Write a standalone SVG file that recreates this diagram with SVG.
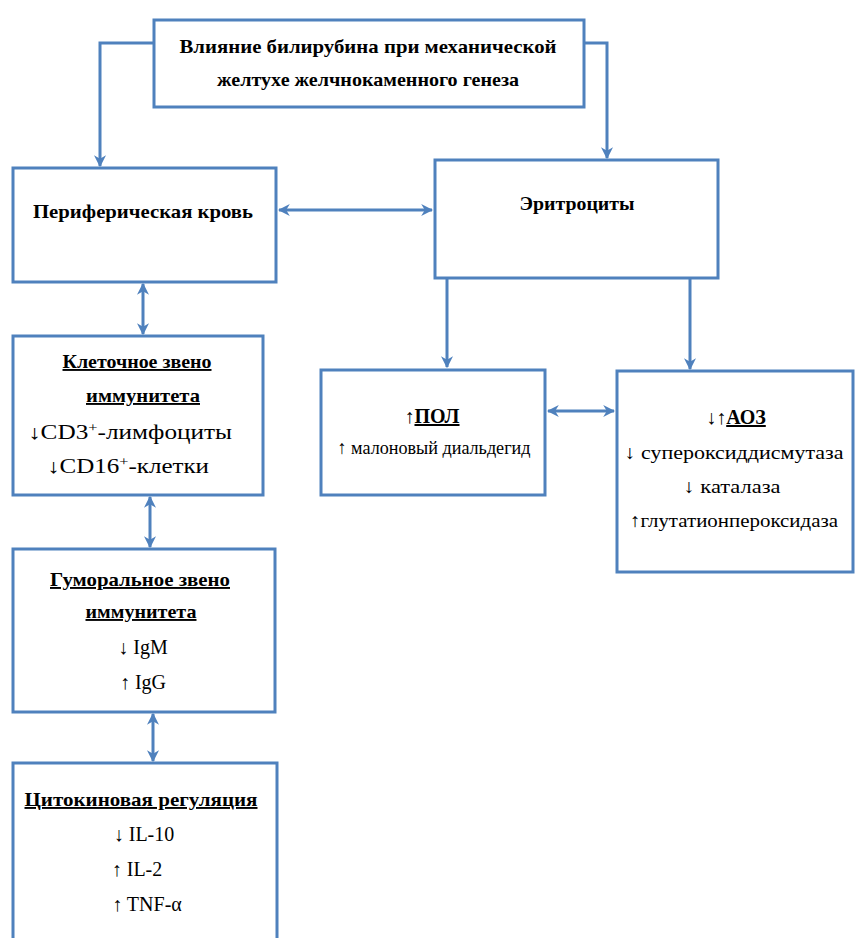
<svg xmlns="http://www.w3.org/2000/svg" width="855" height="938" viewBox="0 0 855 938">
<style>
.box{fill:#fff;stroke:#4f81bd;stroke-width:3}
.con{fill:none;stroke:#4f81bd;stroke-width:3}
</style>
<defs>
<marker id="ah" viewBox="0 0 10 10" refX="9" refY="5" markerWidth="12" markerHeight="12" markerUnits="userSpaceOnUse" orient="auto-start-reverse">
<path d="M0,0 L10,5 L0,10 L3,5 z" fill="#4f81bd"/>
</marker>
</defs>
<rect width="855" height="938" fill="#fff"/>
<g id="connectors">
<path class="con" d="M153,43 H100 V166" marker-end="url(#ah)"/>
<path class="con" d="M584,43 H607 V158" marker-end="url(#ah)"/>
<path class="con" d="M279,210 H432" marker-start="url(#ah)" marker-end="url(#ah)"/>
<path class="con" d="M143,284 V334" marker-start="url(#ah)" marker-end="url(#ah)"/>
<path class="con" d="M150,497 V547" marker-start="url(#ah)" marker-end="url(#ah)"/>
<path class="con" d="M153,714 V761" marker-start="url(#ah)" marker-end="url(#ah)"/>
<path class="con" d="M447,279 V367" marker-end="url(#ah)"/>
<path class="con" d="M690,279 V369" marker-end="url(#ah)"/>
<path class="con" d="M548,411 H614" marker-start="url(#ah)" marker-end="url(#ah)"/>
</g>
<g id="n-top">
<rect class="box" x="154" y="20" width="430" height="87"/>
<text font-family="Liberation Serif" font-weight="bold" font-size="19" text-anchor="middle" x="368" y="53" textLength="377" lengthAdjust="spacingAndGlyphs">Влияние билирубина при механической</text>
<text font-family="Liberation Serif" font-weight="bold" font-size="19" text-anchor="middle" x="368" y="86" textLength="302" lengthAdjust="spacingAndGlyphs">желтухе желчнокаменного генеза</text>
</g>
<g id="n-blood">
<rect class="box" x="13" y="168" width="263" height="114"/>
<text font-family="Liberation Serif" font-weight="bold" font-size="19" text-anchor="middle" x="143" y="218" textLength="220" lengthAdjust="spacingAndGlyphs">Периферическая кровь</text>
</g>
<g id="n-ery">
<rect class="box" x="435" y="160" width="283" height="118"/>
<text font-family="Liberation Serif" font-weight="bold" font-size="19" text-anchor="middle" x="577" y="210" textLength="115" lengthAdjust="spacingAndGlyphs">Эритроциты</text>
</g>
<g id="n-cell">
<rect class="box" x="13" y="336" width="250" height="159"/>
<text font-family="Liberation Serif" font-weight="bold" font-size="19" text-anchor="middle" text-decoration="underline" x="137" y="368" textLength="149" lengthAdjust="spacingAndGlyphs">Клеточное звено</text>
<text font-family="Liberation Serif" font-weight="bold" font-size="19" text-anchor="middle" text-decoration="underline" x="143" y="402" textLength="114" lengthAdjust="spacingAndGlyphs">иммунитета</text>
<text font-family="Liberation Serif" font-size="20" text-anchor="middle" x="130" y="439" textLength="204" lengthAdjust="spacingAndGlyphs">↓CD3<tspan dy="-7" font-size="13">+</tspan><tspan dy="7">-лимфоциты</tspan></text>
<text font-family="Liberation Serif" font-size="20" text-anchor="middle" x="128" y="473" textLength="162" lengthAdjust="spacingAndGlyphs">↓CD16<tspan dy="-7" font-size="13">+</tspan><tspan dy="7">-клетки</tspan></text>
</g>
<g id="n-pol">
<rect class="box" x="321" y="370" width="224" height="125"/>
<text font-family="Liberation Serif" font-size="20" text-anchor="middle" x="432" y="423">↑<tspan font-weight="bold" text-decoration="underline">ПОЛ</tspan></text>
<text font-family="Liberation Serif" font-size="19" text-anchor="middle" x="434" y="454" textLength="193" lengthAdjust="spacingAndGlyphs">↑ малоновый диальдегид</text>
</g>
<g id="n-aoz">
<rect class="box" x="617" y="371" width="236" height="201"/>
<text font-family="Liberation Serif" font-size="20" text-anchor="middle" x="736" y="424">↓↑<tspan font-weight="bold" text-decoration="underline">АОЗ</tspan></text>
<text font-family="Liberation Serif" font-size="19" text-anchor="middle" x="734" y="459" textLength="219" lengthAdjust="spacingAndGlyphs">↓ супероксиддисмутаза</text>
<text font-family="Liberation Serif" font-size="19" text-anchor="middle" x="732" y="493" textLength="97" lengthAdjust="spacingAndGlyphs">↓ каталаза</text>
<text font-family="Liberation Serif" font-size="19" text-anchor="middle" x="734" y="527" textLength="208" lengthAdjust="spacingAndGlyphs">↑глутатионпероксидаза</text>
</g>
<g id="n-hum">
<rect class="box" x="13" y="549" width="262" height="163"/>
<text font-family="Liberation Serif" font-weight="bold" font-size="19" text-anchor="middle" text-decoration="underline" x="140" y="586" textLength="180" lengthAdjust="spacingAndGlyphs">Гуморальное звено</text>
<text font-family="Liberation Serif" font-weight="bold" font-size="19" text-anchor="middle" text-decoration="underline" x="141" y="618" textLength="111" lengthAdjust="spacingAndGlyphs">иммунитета</text>
<text font-family="Liberation Serif" font-size="20" text-anchor="middle" x="143" y="654">↓ IgM</text>
<text font-family="Liberation Serif" font-size="20" text-anchor="middle" x="143" y="689">↑ IgG</text>
</g>
<g id="n-cyt">
<rect class="box" x="13" y="763" width="264" height="180"/>
<text font-family="Liberation Serif" font-weight="bold" font-size="19" text-anchor="middle" text-decoration="underline" x="141" y="806" textLength="233" lengthAdjust="spacingAndGlyphs">Цитокиновая регуляция</text>
<text font-family="Liberation Serif" font-size="20" text-anchor="middle" x="144" y="841">↓ IL-10</text>
<text font-family="Liberation Serif" font-size="20" text-anchor="middle" x="137" y="876">↑ IL-2</text>
<text font-family="Liberation Serif" font-size="20" text-anchor="middle" x="147" y="911">↑ TNF-α</text>
</g>
</svg>
